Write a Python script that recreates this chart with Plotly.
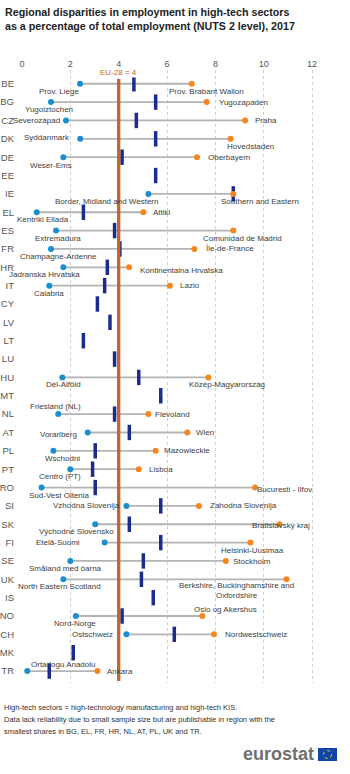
import plotly.graph_objects as go

# ---------------- data ----------------
countries = ["BE","BG","CZ","DK","DE","EE","IE","EL","ES","FR","HR","IT","CY","LV","LT","LU",
             "HU","MT","NL","AT","PL","PT","RO","SI","SK","FI","SE","UK","IS","NO","CH","MK","TR"]
national = [4.63,5.53,4.73,5.53,4.14,5.53,8.74,2.54,3.83,4.05,3.53,3.42,3.12,3.64,2.54,3.83,
            4.83,5.74,3.83,4.44,3.03,2.92,3.03,5.74,4.44,5.74,5.02,4.94,5.43,4.14,6.30,2.12,1.13]
min_val = [2.40,1.20,1.82,2.41,1.71,None,5.23,0.61,1.41,1.20,1.71,1.13,None,None,None,None,
           1.67,None,1.50,2.72,1.30,2.00,0.81,4.32,3.03,3.42,2.00,1.71,None,2.23,4.32,None,0.22]
max_val = [7.02,7.64,9.23,8.63,7.24,None,8.74,5.02,8.74,7.13,4.43,6.12,None,None,None,None,
           7.71,None,5.23,6.84,5.53,4.83,9.64,7.32,10.65,9.45,8.43,10.94,None,7.46,7.94,None,3.12]
min_region = ["Prov. Liege","Yugoiztochen","Severozápad","Syddanmark","Weser-Ems",None,
              "Border, Midland and Western","Kentriki Ellada","Extremadura","Champagne-Ardenne",
              "Jadranska Hrvatska","Calabria",None,None,None,None,"Dél-Alföld",None,"Friesland (NL)",
              "Vorarlberg","Wschodni","Centro (PT)","Sud-Vest Oltenia","Vzhodna Slovenija",
              "Východné Slovensko","Etelä-Suomi","Småland med öarna","North Eastern Scotland",None,
              "Nord-Norge","Ostschweiz",None,"Ortadogu Anadolu"]
max_region = ["Prov. Brabant Wallon","Yugozapaden","Praha","Hovedstaden","Oberbayern",None,
              "Southern and Eastern","Attiki","Comunidad de Madrid","Île-de-France",
              "Kontinentalna Hrvatska","Lazio",None,None,None,None,"Közép-Magyarország",None,"Flevoland",
              "Wien","Mazowieckie","Lisboa","Bucuresti - Ilfov","Zahodna Slovenija",
              "Bratislavský kraj","Helsinki-Uusimaa","Stockholm",
              "Berkshire, Buckinghamshire and<br>Oxfordshire",None,
              "Oslo og Akershus","Nordwestschweiz",None,"Ankara"]
eu_value = 4
eu_label = "EU-28 = 4"
x_ticks = [0, 2, 4, 6, 8, 10, 12]

title_text = ("<b>Regional disparities in employment in high-tech sectors<br>"
              "as a percentage of total employment (NUTS 2 level), 2017</b>")
note_lines = ["High-tech sectors = high-technology manufacturing and high-tech KIS.",
              "Data lack reliability due to small sample size but are publishable in region with the",
              "smallest shares in BG, EL, FR, HR, NL, AT, PL, UK and TR."]

# ---------------- label placement (style) ----------------
# code: B below, A above, L left, R right, C centred on dot ; dx, dy pixel offsets
min_pos = [("B",-21,0),("B",-2,0),("L",-4,0),("L",-8,1),("B",-12,-1),None,
           ("B",-42,0),("B",6,0),("B",2,0),("B",8,0),("B",-19,0),("B",0,0),None,None,None,None,
           ("B",1,0),None,("A",-3,1),("L",-9,-2),("B",9,0),("B",-10,0),("B",18,0),("L",-4,0),
           ("B",-19,0),("L",-23,0),("B",-5,0),("B",-4,0),None,("B",-1,0),("L",-11,0),None,("A",36,0)]
max_pos = [("B",15,0),("R",10,0),("R",8,0),("B",20,0),("R",9,0),None,
           ("B",27,0),("R",8,0),("B",9,0),("R",9,0),("R",9,-3),("R",8,0),None,None,None,None,
           ("B",19,0),None,("R",5,0),("R",7,0),("R",6,0),("R",8,0),("R",0,-2),("R",9,0),
           ("C",2,-1),("B",2,0),("R",5,-1),("B",-50,-4),None,("A",23,0),("R",9,0),None,("R",8,0)]

W, H = 350, 774
L_M, R_M, T_M, B_M = 21, 20, 70, 91
PW, PH = W - L_M - R_M, H - T_M - B_M
def px_x(px):
    return (px - L_M) / PW
def px_y(py):
    return (H - B_M - py) / PH

BLUE = "#1a8fcf"
ORANGE = "#f7861f"
NAVY = "#1c2b8c"
EUCOL = "#c4652c"
LABEL = "#404040"
FONT = "Liberation Sans, Arial, sans-serif"

fig = go.Figure()

# connecting lines
lx, ly = [], []
for c, a, b in zip(countries, min_val, max_val):
    if a is not None and b is not None:
        lx += [a, b, None]
        ly += [c, c, None]
fig.add_trace(go.Scatter(x=lx, y=ly, mode="lines", line=dict(color="#b4b4b4", width=1.8),
                         hoverinfo="skip", showlegend=False))
# national values
fig.add_trace(go.Scatter(x=national, y=countries, mode="markers",
                         marker=dict(symbol="line-ns", size=11, line=dict(color=NAVY, width=3.5)),
                         showlegend=False))
# min / max
mx = [v for v in min_val if v is not None]
my = [c for c, v in zip(countries, min_val) if v is not None]
fig.add_trace(go.Scatter(x=mx, y=my, mode="markers", marker=dict(color=BLUE, size=6),
                         showlegend=False))
Mx = [v for v in max_val if v is not None]
My = [c for c, v in zip(countries, max_val) if v is not None]
fig.add_trace(go.Scatter(x=Mx, y=My, mode="markers", marker=dict(color=ORANGE, size=6),
                         showlegend=False))

ann = []
def add_label(x, y, text, pos):
    code, dx, dy = pos
    d = dict(x=x, y=y, xref="x", yref="y", text=text, showarrow=False,
             font=dict(family=FONT, size=8, color=LABEL),
             yanchor="middle", xshift=dx)
    if code == "B":
        d.update(xanchor="center", yshift=-7.5 + dy)
    elif code == "A":
        d.update(xanchor="center", yshift=6.5 + dy)
    elif code == "L":
        d.update(xanchor="right", yshift=dy)
    elif code == "R":
        d.update(xanchor="left", yshift=dy)
    else:
        d.update(xanchor="center", yshift=dy)
    ann.append(d)

for c, v, t, p in zip(countries, min_val, min_region, min_pos):
    if v is not None:
        add_label(v, c, t, p)
for c, v, t, p in zip(countries, max_val, max_region, max_pos):
    if v is not None:
        add_label(v, c, t, p)

# EU label
ann.append(dict(x=eu_value, xref="x", y=px_y(72), yref="paper", text=eu_label, showarrow=False,
                xanchor="center", yanchor="middle", bgcolor="white", borderpad=0,
                font=dict(family=FONT, size=8, color=EUCOL)))
# title
ann.append(dict(x=px_x(3), y=px_y(4), xref="paper", yref="paper", text=title_text, showarrow=False,
                xanchor="left", yanchor="top", align="left",
                font=dict(family=FONT, size=10.7, color="#222222")))
# note
for i, line in enumerate(note_lines):
    ann.append(dict(x=px_x(2), y=px_y(707 + 12.2 * i), xref="paper", yref="paper", text=line,
                    showarrow=False, xanchor="left", yanchor="middle", align="left",
                    font=dict(family=FONT, size=7.5, color="#333333")))
# eurostat logo text
ann.append(dict(x=px_x(316), y=px_y(754), xref="paper", yref="paper", text="<b>eurostat</b>",
                showarrow=False, xanchor="right", yanchor="middle",
                font=dict(family=FONT, size=18, color="#6f6f6f")))

shapes = [
    dict(type="line", xref="x", yref="paper", x0=eu_value, x1=eu_value, y0=px_y(681), y1=px_y(79),
         line=dict(color=EUCOL, width=3.3)),
    dict(type="rect", xref="paper", yref="paper", x0=px_x(318), x1=px_x(337), y0=px_y(761), y1=px_y(748),
         fillcolor="#1046a8", line=dict(width=0)),
    dict(type="circle", xref="paper", yref="paper", x0=px_x(323.5), x1=px_x(331.5), y0=px_y(758.5),
         y1=px_y(750.5), line=dict(color="#ffd200", width=1, dash="dot")),
]

fig.update_layout(
    width=W, height=H, margin=dict(l=L_M, r=R_M, t=T_M, b=B_M, autoexpand=False),
    paper_bgcolor="white", plot_bgcolor="white",
    annotations=ann, shapes=shapes, showlegend=False,
    xaxis=dict(side="top", range=[-0.04, 12.74], tickvals=x_ticks, showgrid=True, automargin=False,
               gridcolor="#cfcfcf", griddash="dot", gridwidth=1, zeroline=False, showline=False,
               ticks="", ticklabelstandoff=0,
               tickfont=dict(family=FONT, size=9, color="#555555")),
    yaxis=dict(type="category", categoryorder="array", categoryarray=countries, automargin=False,
               range=[len(countries) - 0.35, -0.75], showgrid=False, zeroline=False, showline=False,
               ticks="", ticklabelstandoff=6,
               tickfont=dict(family=FONT, size=9.5, color="#555555")),
)

fig.write_html("out.html")
